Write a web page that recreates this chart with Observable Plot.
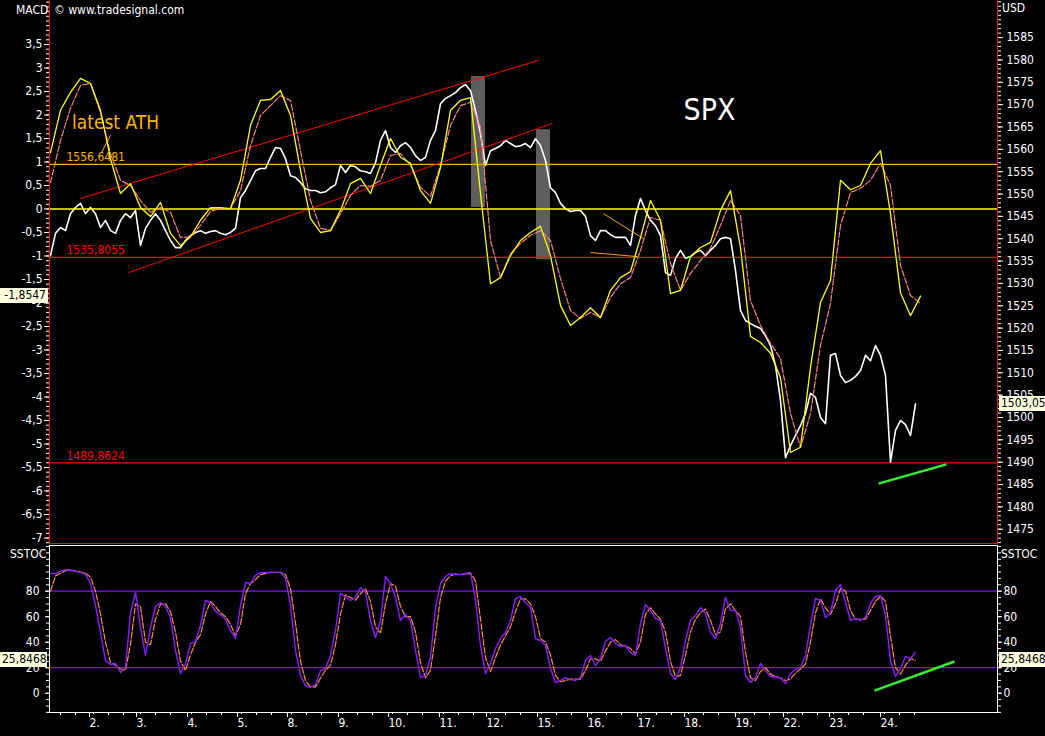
<!DOCTYPE html>
<html><head><meta charset="utf-8">
<script src="https://cdn.jsdelivr.net/npm/d3@7"></script>
<script src="https://cdn.jsdelivr.net/npm/@observablehq/plot@0.6"></script>
<style>
html,body{margin:0;padding:0;background:#000;}
#chart{position:relative;width:1045px;height:736px;background:#000;overflow:hidden;font-family:"Liberation Sans Narrow","Arial Narrow","DejaVu Sans Condensed","Liberation Sans",sans-serif;color:#fff;}
#chart svg{position:absolute;left:0;}
.lbl{position:absolute;font-size:12px;color:#fff;white-space:nowrap;line-height:14px;}
.box{position:absolute;background:#ffffe0;color:#000;font-size:12px;line-height:15px;height:15px;text-align:right;box-sizing:border-box;padding:0 2px;}
</style></head><body><div id="chart"></div><script>
const FONT = '"Liberation Sans Narrow","Arial Narrow","DejaVu Sans Condensed","Liberation Sans",sans-serif';

// ---- x axis (bars; one bar = one sample of the price / stochastic series) ----
const dayLabels = ["2.","3.","4.","5.","8.","9.","10.","11.","12.","15.","16.","17.","18.","19.","22.","23.","24."];
const dayStarts = [7.8,17.2,27.4,37.4,47.4,57.6,67.6,77.8,87.2,97.4,107.4,117.4,126.8,137,146.6,155.8,166];
const firstDayStart = -1.8;

// ---- MACD panel (sampled every 2 bars) ----
const macdStep = 2;
const macd = [1.20,2.10,2.48,2.78,2.67,2.10,1.07,0.33,0.54,0.03,
-0.16,0.14,-0.52,-0.78,-0.59,-0.24,0.03,0.03,0.01,0.61,
1.78,2.31,2.33,2.52,1.99,0.82,-0.20,-0.50,-0.46,-0.03,
0.54,0.65,0.33,0.93,1.50,1.10,0.97,0.39,0.12,0.88,
2.10,2.31,2.37,0.33,-1.59,-1.46,-0.99,-0.67,-0.50,-0.37,
-0.99,-2.05,-2.48,-2.31,-2.10,-2.31,-1.73,-1.46,-1.33,-0.61,
0.18,-0.24,-1.80,-1.73,-1.01,-0.82,-0.71,-0.03,0.39,-0.82,
-2.71,-2.84,-3.07,-3.59,-5.18,-5.07,-3.37,-1.99,-1.52,0.61,
0.41,0.50,0.97,1.24,-0.10,-1.78,-2.27,-1.8547];
const macdSignal = [0.56,1.46,2.14,2.63,2.67,2.05,1.18,0.61,0.50,0.18,
-0.07,0.03,-0.07,-0.61,-0.59,-0.35,-0.05,0.01,0.01,0.39,
1.35,1.99,2.20,2.41,2.31,1.24,0.18,-0.41,-0.46,-0.10,
0.29,0.50,0.48,0.61,1.14,1.18,0.93,0.46,0.27,0.93,
1.78,2.20,2.27,1.73,-0.67,-1.46,-0.95,-0.73,-0.56,-0.46,
-0.67,-1.48,-2.16,-2.33,-2.20,-2.31,-1.88,-1.59,-1.46,-0.88,
-0.18,-0.24,-1.16,-1.73,-1.37,-1.10,-0.84,-0.35,0.18,-0.14,
-1.95,-2.48,-2.86,-3.18,-4.35,-5.07,-4.35,-2.90,-2.01,-0.35,
0.35,0.44,0.61,0.97,0.50,-1.20,-1.84,-2.01];
const macdTicks = [-7,-6.5,-6,-5.5,-5,-4.5,-4,-3.5,-3,-2.5,-2,-1.5,-1,-0.5,0,0.5,1,1.5,2,2.5,3,3.5];

// ---- SPX price (USD, one value per bar) ----
const spx = [1536.2,1541.2,1542.5,1541.8,1545.6,1547.0,1547.9,1545.6,1547.0,1545.6,
1542.5,1544.1,1541.8,1541.2,1544.1,1545.6,1544.7,1546.3,1538.5,1542.3,
1544.1,1545.6,1544.1,1541.8,1539.6,1538.0,1538.0,1539.6,1540.7,1541.4,
1541.8,1541.2,1541.6,1541.8,1541.2,1540.9,1541.4,1542.3,1549.2,1550.8,
1553.0,1555.2,1555.7,1555.7,1558.2,1560.4,1560.2,1557.9,1554.1,1553.7,
1552.6,1551.2,1550.8,1550.8,1550.3,1550.5,1551.4,1552.1,1556.4,1554.8,
1556.4,1556.1,1555.2,1555.0,1554.6,1557.0,1562.0,1564.2,1560.4,1559.3,
1560.8,1561.5,1560.4,1558.6,1557.5,1558.2,1562.0,1564.2,1570.2,1571.4,
1572.0,1572.7,1573.8,1574.5,1573.1,1568.7,1563.5,1556.4,1559.7,1560.2,
1560.8,1562.0,1561.3,1560.6,1560.8,1561.3,1560.4,1562.4,1560.8,1557.5,
1551.4,1550.3,1547.9,1546.7,1546.1,1546.3,1546.3,1545.0,1540.7,1539.6,
1541.8,1541.8,1540.9,1540.3,1540.3,1540.3,1538.5,1545.2,1549.0,1546.3,
1544.1,1542.9,1540.7,1532.4,1531.8,1535.6,1537.4,1535.6,1536.0,1536.9,
1537.4,1536.2,1537.4,1538.5,1540.0,1540.3,1540.0,1532.9,1523.9,1521.7,
1521.0,1520.4,1519.9,1518.3,1516.1,1511.6,1503.8,1491.0,1493.7,1496.0,
1498.2,1500.9,1505.4,1504.5,1500.0,1498.6,1513.9,1514.3,1509.4,1507.8,
1508.3,1509.2,1510.5,1513.9,1512.7,1516.1,1513.9,1509.4,1490.0,1497.1,
1499.3,1498.4,1496.0,1503.05];
const priceMajor = [1475,1480,1485,1490,1495,1500,1505,1510,1515,1520,1525,1530,1535,1540,1545,1550,1555,1560,1565,1570,1575,1580,1585];
const levelValues = [1556.6481, 1535.8055, 1489.8624];
const levelColors = ["#ffb000", "#ff0000", "#ff0000"];
const grayBoxes = [{b1:84.2,b2:87,p1:1547.0,p2:1576.3},{b1:97.2,b2:100,p1:1535.3,p2:1564.4}];
const channelLines = [{b1:6,p1:1549.0,b2:97.6,p2:1579.9},{b1:15.6,p1:1532.4,b2:100.4,p2:1565.8}];
const triangleLines = [{b1:110.6,p1:1545.6,b2:118.6,p2:1540.0},{b1:108,p1:1536.9,b2:117.4,p2:1536.0}];
const athPointer = [{b1:12,p1:1563.1,b2:10.2,p2:1559.3}];
const greenPrice = [{b1:165.6,p1:1485.2,b2:179.2,p2:1489.5}];
const notes = [{bar:13,price:1566.0,text:"latest ATH",size:19,color:"#ffb400"},{bar:131.8,price:1568.7,text:"SPX",size:30,color:"#ffffff"}];

// ---- SSTOC panel (one value per bar) ----
const sstocK = [93.9,93.9,95.5,97.0,96.2,95.5,94.7,93.1,86.0,68.8,
47.6,25.6,22.5,23.3,16.2,20.2,62.5,79.0,51.5,29.6,
51.5,68.0,71.1,68.0,59.4,33.5,15.5,23.3,39.0,40.5,
53.1,72.7,71.1,64.1,61.7,57.8,49.2,42.9,68.8,86.8,
86.0,92.3,94.7,94.7,94.7,94.7,94.7,90.0,68.8,33.5,
13.9,6.0,4.5,6.8,17.8,19.4,29.6,49.2,78.2,75.8,
72.7,75.1,82.9,79.0,57.0,43.7,57.0,91.5,86.0,75.1,
57.0,61.7,57.0,33.5,12.3,13.9,28.0,67.2,86.0,91.5,
93.9,93.1,93.1,93.9,94.7,72.7,37.4,15.5,23.3,35.1,
42.9,47.6,57.0,74.3,75.8,71.1,67.2,42.9,41.3,37.4,
19.4,8.4,10.0,12.3,10.7,10.0,12.3,25.6,29.6,21.7,
27.2,40.5,43.7,39.0,36.6,37.4,31.9,29.6,54.7,69.6,
64.9,58.6,57.0,35.1,15.5,10.7,20.2,41.3,57.0,60.9,
67.2,62.5,47.6,42.9,54.7,75.1,64.9,64.9,51.5,13.9,
8.4,12.3,23.3,17.8,13.1,12.3,12.3,7.6,15.5,18.6,
20.2,29.6,53.1,74.3,72.7,59.4,63.3,80.5,85.3,71.1,
57.0,58.6,57.0,59.4,70.4,75.8,76.6,60.9,25.6,13.1,
19.4,28.8,27.2,32.0];
const sstocD = [80,92,94,96,96.5,96,95,94,91,80,
62,40,24,22,19,18,38,70,68,40,
38,58,70,70,64,48,25,18,30,40,
46,62,72,68,63,60,54,45,54,78,
86,89,93,94,94.7,94.7,94.7,93,82,55,
25,10,5,5,12,18,22,38,62,77,
75,73,78,82,72,52,47,70,86,84,
68,60,60,48,24,12,18,45,75,88,
92,93.5,93,93.5,94,88,58,28,17,28,
38,45,52,64,74,74,70,60,43,40,
30,14,9,10,11,11,11,18,27,27,
25,33,40,42,38,37,35,31,40,62,
67,62,58,48,25,13,14,30,48,58,
63,66,57,46,48,66,70,65,60,32,
12,10,17,20,15,13,12,10,11,16,
19,23,40,63,74,67,62,70,82,80,
65,58,58,58,65,72,76,72,45,20,
15,22,27,25.8468];
const stocLevels = [80, 20];
const stocLabels = [0,20,40,60,80];
const greenStoc = [{b1:164.8,s1:2.1,b2:180.8,s2:24.9}];

// ---------------------------------------------------------------
const comma = d => String(d).replace(".", ",");
const W = 1045;
const xDomain = [-0.2, 189.4];
const baseStyle = {background:"transparent", color:"#fff", fontFamily:FONT, fontSize:"12px", overflow:"visible"};
const macdData = macd.map((v,i)=>({bar:i*macdStep, v}));
const sigData = macdSignal.map((v,i)=>({bar:i*macdStep, v}));
const spxData = spx.map((v,i)=>({bar:i, v}));
const kData = sstocK.map((v,i)=>({bar:i, v}));
const dData = sstocD.map((v,i)=>({bar:i, v}));
const levels = levelValues.map((v,i)=>({v, color:levelColors[i]}));
const allStarts = [firstDayStart, ...dayStarts];
const xMinorShort = allStarts.map(s=>s+0.8).filter(b=>b>=xDomain[0]);
const xMinor = allStarts.flatMap(s=>[s+3.8, s+6.8]).filter(b=>b>=xDomain[0] && b<=xDomain[1]);
const priceMinor = d3.range(1472, 1594);
const macdMinor = d3.range(-71, 45).map(k=>k/10);
const stocMinor = d3.range(-15, 116, 5);

const topCommon = {width:W, height:545, marginLeft:49, marginRight:48, marginTop:0, marginBottom:2,
  x:{domain:xDomain, axis:null}, style:baseStyle};

const pricePlot = Plot.plot({
  ...topCommon,
  y:{domain:[1471.8, 1593.3], label:null},
  marks:[
    Plot.rect(grayBoxes, {x1:"b1", x2:"b2", y1:"p1", y2:"p2", fill:"#5e5e5e"}),
    Plot.ruleY(levels, {y:"v", stroke:"color", strokeWidth:1.3}),
    Plot.text(levels, {y:"v", text:d=>comma(d.v), fill:"color", frameAnchor:"left", dx:17, dy:-7, textAnchor:"start", fontSize:12}),
    Plot.line(spxData, {x:"bar", y:"v", stroke:"#fff", strokeWidth:1.6}),
    Plot.link(channelLines, {x1:"b1", y1:"p1", x2:"b2", y2:"p2", stroke:"#ff0000", strokeWidth:1}),
    Plot.link(triangleLines, {x1:"b1", y1:"p1", x2:"b2", y2:"p2", stroke:"#ff9900", strokeWidth:1}),
    Plot.link(athPointer, {x1:"b1", y1:"p1", x2:"b2", y2:"p2", stroke:"#ffb400", strokeWidth:1}),
    Plot.link(greenPrice, {x1:"b1", y1:"p1", x2:"b2", y2:"p2", stroke:"#33ee33", strokeWidth:2.5}),
    Plot.text(notes, {x:"bar", y:"price", text:"text", fill:"color", fontSize:d=>d.size}),
    Plot.axisY({anchor:"right", ticks:priceMinor, tickSize:3, tickFormat:()=>"", label:null, stroke:"#fff"}),
    Plot.axisY({anchor:"right", ticks:priceMajor, tickSize:5, tickPadding:4, tickFormat:d=>String(d), label:null, stroke:"#fff", fill:"#fff"})
  ]
});
pricePlot.style.top = "0px";

const macdPlot = Plot.plot({
  ...topCommon,
  y:{domain:[-7.117, 4.436], label:null},
  marks:[
    Plot.ruleY([0], {stroke:"#ffff00", strokeWidth:1.3}),
    Plot.line(sigData, {x:"bar", y:"v", stroke:"#ff8080", strokeWidth:1.2, strokeDasharray:"6,2"}),
    Plot.line(macdData, {x:"bar", y:"v", stroke:"#ffff00", strokeWidth:1.3}),
    Plot.axisY({anchor:"left", ticks:macdMinor, tickSize:3, tickFormat:()=>"", label:null, stroke:"#fff"}),
    Plot.axisY({anchor:"left", ticks:macdTicks, tickSize:5, tickPadding:2, tickFormat:comma, label:null, stroke:"#fff", fill:"#fff"}),
    Plot.frame({anchor:"left", stroke:"#ff0000"}),
    Plot.frame({anchor:"right", stroke:"#ff0000"}),
    Plot.frame({anchor:"bottom", stroke:"#ff0000"})
  ]
});
macdPlot.style.top = "0px";

const stocPlot = Plot.plot({
  width:W, height:191, marginLeft:49, marginRight:48, marginTop:0, marginBottom:24,
  x:{domain:xDomain}, y:{domain:[-15.1, 115.8], label:null},
  style:baseStyle,
  marks:[
    Plot.ruleY(stocLevels, {stroke:"#8010ff", strokeWidth:1.3}),
    Plot.line(dData, {x:"bar", y:"v", stroke:"#ff8c3c", strokeWidth:1.2, strokeDasharray:"6,2"}),
    Plot.line(kData, {x:"bar", y:"v", stroke:"#8a1cff", strokeWidth:1.4}),
    Plot.link(greenStoc, {x1:"b1", y1:"s1", x2:"b2", y2:"s2", stroke:"#33ee33", strokeWidth:2.5}),
    Plot.frame({stroke:"#fff"}),
    Plot.axisY({anchor:"left", ticks:stocMinor, tickSize:3, tickFormat:()=>"", label:null, stroke:"#fff"}),
    Plot.axisY({anchor:"left", ticks:stocLabels, tickSize:4, tickPadding:6, tickFormat:d=>String(d), label:null, stroke:"#fff", fill:"#fff"}),
    Plot.axisY({anchor:"right", ticks:stocMinor, tickSize:3, tickFormat:()=>"", label:null, stroke:"#fff"}),
    Plot.axisY({anchor:"right", ticks:stocLabels, tickSize:4, tickPadding:2, tickFormat:d=>String(d), label:null, stroke:"#fff", fill:"#fff"}),
    Plot.axisX({ticks:xMinor, tickSize:3, tickFormat:()=>"", label:null, stroke:"#fff"}),
    Plot.axisX({ticks:xMinorShort, tickSize:2, tickFormat:()=>"", label:null, stroke:"#fff"}),
    Plot.axisX({ticks:dayStarts, tickSize:5, tickFormat:()=>"", label:null, stroke:"#fff"}),
    Plot.text(dayStarts, {x:d=>d, text:(d,i)=>dayLabels[i], frameAnchor:"bottom", dy:14, textAnchor:"start", fill:"#fff", fontSize:12})
  ]
});
stocPlot.style.top = "545px";

const root = document.getElementById("chart");
root.append(pricePlot, macdPlot, stocPlot);

function addLabel(text, left, top) {
  const d = document.createElement("div");
  d.className = "lbl"; d.textContent = text;
  d.style.left = left + "px"; d.style.top = top + "px";
  root.append(d);
}
function addBox(text, left, width, yCenter) {
  const d = document.createElement("div");
  d.className = "box"; d.textContent = text;
  d.style.left = left + "px"; d.style.width = width + "px";
  d.style.top = (yCenter - 7.5) + "px";
  root.append(d);
}
addLabel("MACD", 16, 3);
addLabel("\u00a9 www.tradesignal.com", 54, 3);
addLabel("USD", 1002, 1);
addLabel("SSTOC", 10, 547);
addLabel("SSTOC", 1001, 547);

const lastMacd = macd[macd.length-1];
const lastSpx = spx[spx.length-1];
const lastD = sstocD[sstocD.length-1];
addBox(comma(lastMacd), 0, 48, macdPlot.scale("y").apply(lastMacd));
addBox(comma(lastSpx), 999, 46, pricePlot.scale("y").apply(lastSpx));
addBox(comma(lastD), 0, 47, 545 + stocPlot.scale("y").apply(lastD));
addBox(comma(lastD), 999, 46, 545 + stocPlot.scale("y").apply(lastD));
</script></body></html>
